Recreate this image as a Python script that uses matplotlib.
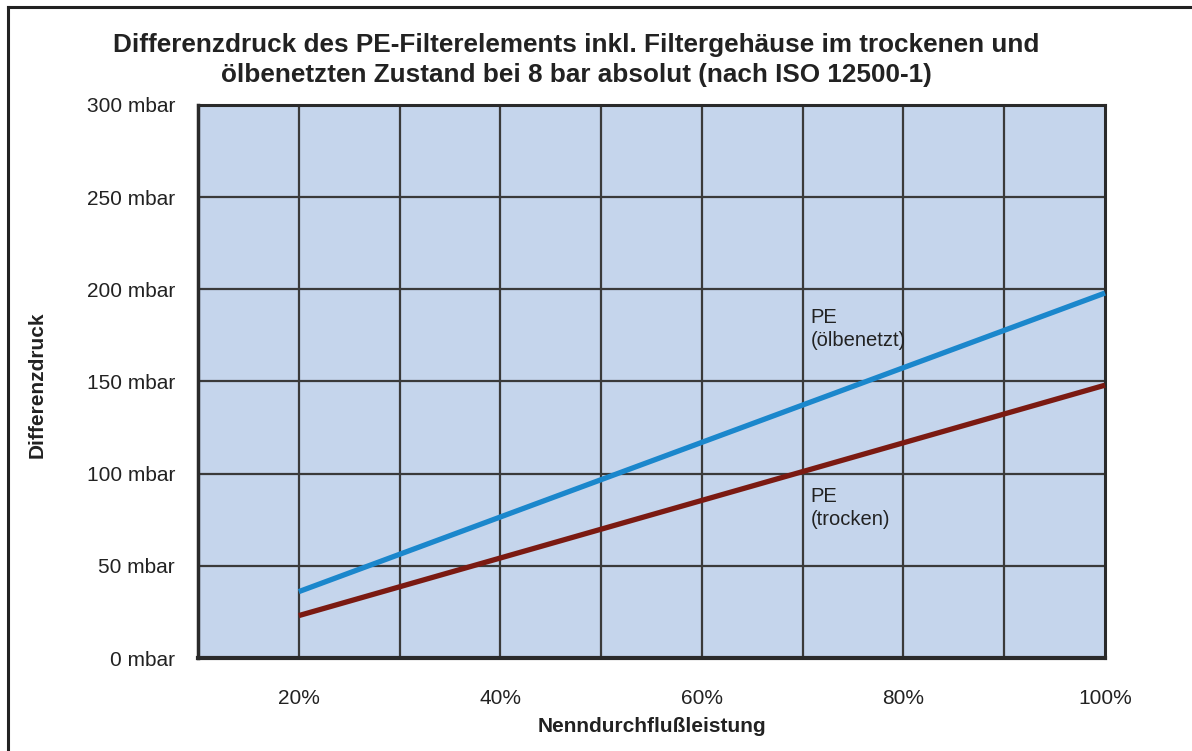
import matplotlib
matplotlib.use("Agg")
import matplotlib.pyplot as plt
from matplotlib.lines import Line2D

plt.rcParams['font.family'] = ['Liberation Sans', 'DejaVu Sans']

# Data
flow_pct = [20, 100]
pe_oil = [36, 198]
pe_dry = [23, 148]
x_ticks = [20, 40, 60, 80, 100]
x_tick_labels = ['20%', '40%', '60%', '80%', '100%']
y_ticks = [0, 50, 100, 150, 200, 250, 300]
y_tick_labels = ['0 mbar', '50 mbar', '100 mbar', '150 mbar', '200 mbar', '250 mbar', '300 mbar']

W, H = 1192, 751
fig = plt.figure(figsize=(W / 100, H / 100), dpi=100)
ax = fig.add_axes([198 / W, 1 - 658 / H, (1105 - 198) / W, (658 - 105) / H])
ax.set_facecolor('#C5D5EC')

ax.set_xlim(10, 100)
ax.set_ylim(0, 300)

grid_color = '#3a3a3a'
for xv in range(20, 100, 10):
    ax.axvline(xv, color=grid_color, lw=1.6, zorder=1)
for yv in range(50, 300, 50):
    ax.axhline(yv, color=grid_color, lw=1.6, zorder=1)

ax.plot(flow_pct, pe_oil, color='#1B87CC', lw=3.8, solid_capstyle='butt', zorder=3, clip_on=False)
ax.plot(flow_pct, pe_dry, color='#7B1A12', lw=3.8, solid_capstyle='butt', zorder=3, clip_on=False)

txt_color = '#222222'
ax.text(70.8, 178.5, 'PE\n(ölbenetzt)', fontsize=14.5, color=txt_color, va='center', ha='left', linespacing=1.3)
ax.text(70.8, 81.5, 'PE\n(trocken)', fontsize=14.5, color=txt_color, va='center', ha='left', linespacing=1.3)

for s in ax.spines.values():
    s.set_color('#2a2a2a')
    s.set_linewidth(2.2)
ax.spines['bottom'].set_linewidth(3)
ax.spines['left'].set_linewidth(2.5)

ax.set_xticks(x_ticks)
ax.set_xticklabels(x_tick_labels, fontsize=15, color=txt_color)
ax.set_yticks(y_ticks)
ax.set_yticklabels(y_tick_labels, fontsize=15, color=txt_color)
ax.tick_params(axis='both', length=0)
ax.tick_params(axis='x', pad=22)
ax.tick_params(axis='y', pad=16.5)

fig.text(652 / W, 1 - 726 / H, 'Nenndurchflußleistung', fontsize=15, fontweight='bold',
         ha='center', va='center', color=txt_color)
fig.text(37 / W, 1 - 385 / H, 'Differenzdruck', fontsize=15, fontweight='bold',
         ha='center', va='center', rotation=90, color=txt_color)
fig.text(576 / W, 1 - 60 / H,
         'Differenzdruck des PE-Filterelements inkl. Filtergehäuse im trockenen und\n'
         'ölbenetzten Zustand bei 8 bar absolut (nach ISO 12500-1)',
         fontsize=18.8, fontweight='bold', ha='center', va='center', color=txt_color, linespacing=1.33)

# outer border (top and left)
fig.add_artist(Line2D([8 / W, 1.0], [1 - 7 / H, 1 - 7 / H], color='#222222', lw=2.2))
fig.add_artist(Line2D([8 / W, 8 / W], [0.0, 1 - 7 / H], color='#222222', lw=2.2))

fig.savefig('out.png', dpi=100)
